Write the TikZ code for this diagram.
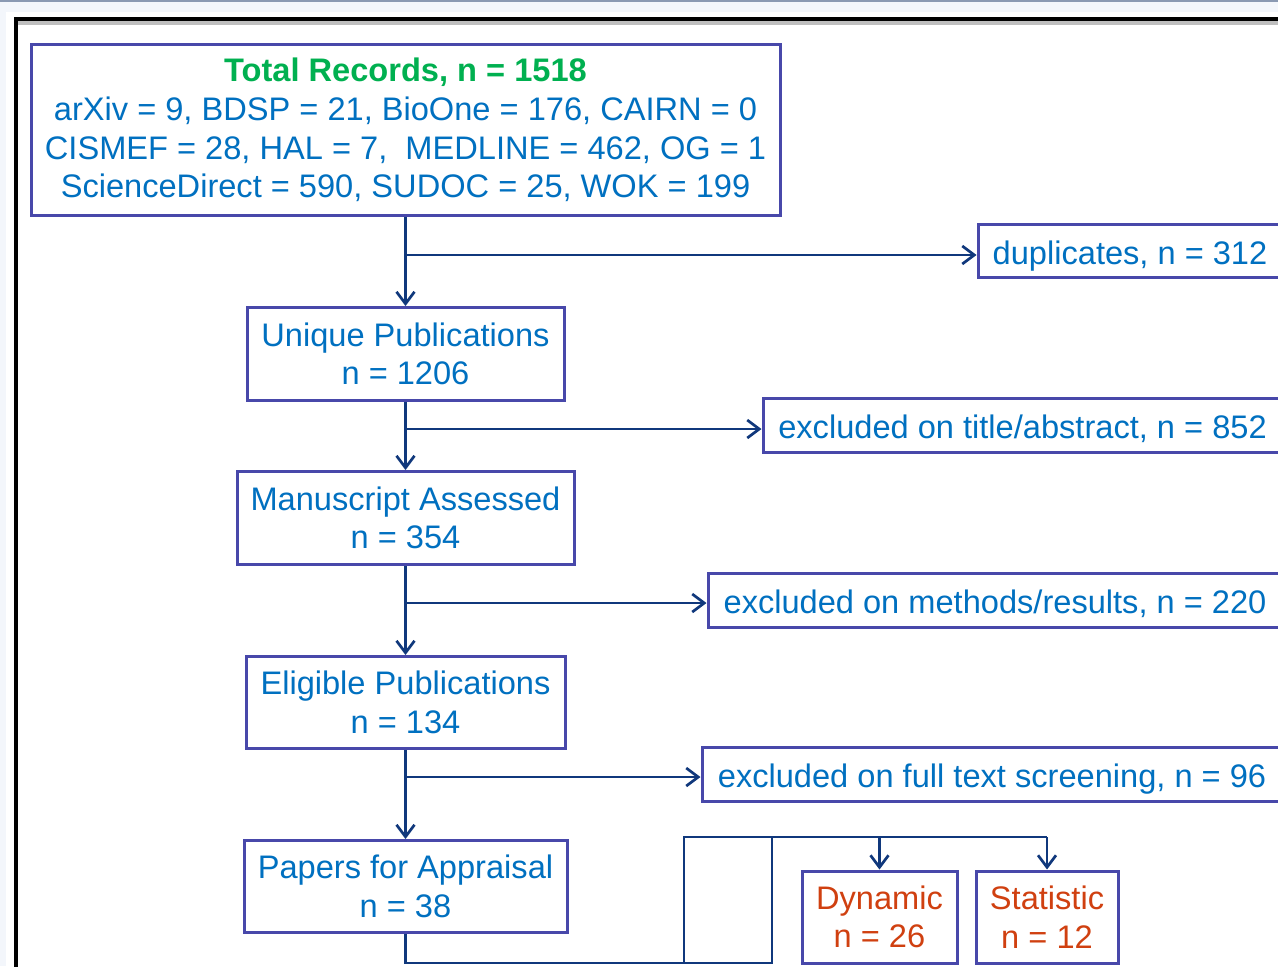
\documentclass[tikz,border=0pt]{standalone}
\usepackage{fontspec}
\setmainfont{Liberation Sans}
\usetikzlibrary{arrows.meta}
\definecolor{txtblue}{HTML}{0070C0}
\definecolor{txtgreen}{HTML}{00B050}
\definecolor{txtorange}{HTML}{D04010}
\definecolor{linenavy}{HTML}{10387C}
\definecolor{boxline}{HTML}{4848AA}
\definecolor{bgpale}{HTML}{F3F6FB}
\definecolor{bgtop}{HTML}{8A99B2}
\tikzset{
  box/.style={draw=boxline, line width=1.5pt, fill=white, inner sep=0pt, align=center,
    text=txtblue, font=\fontsize{16.3}{19.3}\selectfont},
  sidebox/.style={box, text height=13.5pt, text depth=0pt},
  res/.style={box, text=txtorange},
  flow/.style={draw=linenavy, line width=1.35pt},
  flowarrow/.style={flow, -{Straight Barb[length=6pt,width=9pt,line width=1.35pt]}},
}
\begin{document}
\begin{tikzpicture}[x=0.5pt,y=-0.5pt]
\useasboundingbox (0,0) rectangle (1278,966);
\clip (0,0) rectangle (1278,966);
% background
\fill[bgpale] (0,0) rectangle (1278,966);
\fill[bgtop] (0,0) rectangle (1278,2);
\fill[white] (6,12) rectangle (1290,980);
\fill[black!25] (18,21) rectangle (1290,25);
\draw[black, line width=2pt] (16,990) -- (16,19) -- (1300,19);

% main column
\node[box, minimum width=374.5pt, minimum height=85.5pt] (total) at (405.5,130)
  {{\bfseries\color{txtgreen}Total Records, n = 1518}\\
   arXiv = 9, BDSP = 21, BioOne = 176, CAIRN = 0\\
   CISMEF = 28, HAL = 7,\ \ MEDLINE = 462, OG = 1\\
   ScienceDirect = 590, SUDOC = 25, WOK = 199};
\node[box, minimum width=158.5pt, minimum height=46.5pt] (unique) at (405.5,354)
  {Unique Publications\\n = 1206};
\node[box, minimum width=168.5pt, minimum height=46.5pt] (manu) at (405.5,518)
  {Manuscript Assessed\\n = 354};
\node[box, minimum width=159.5pt, minimum height=46pt] (elig) at (405.5,702.5)
  {Eligible Publications\\n = 134};
\node[box, minimum width=161.5pt, minimum height=46pt] (papers) at (405.5,886.5)
  {Papers for Appraisal\\n = 38};

% side boxes
\node[sidebox, minimum width=152pt, minimum height=26.5pt] (dup) at (1130,250.5)
  {duplicates, n = 312};
\node[sidebox, minimum width=259.5pt, minimum height=27pt] (title) at (1022.5,425)
  {excluded on title/abstract, n = 852};
\node[sidebox, minimum width=287pt, minimum height=27pt] (meth) at (995,600)
  {excluded on methods/results, n = 220};
\node[sidebox, minimum width=290pt, minimum height=27pt] (full) at (992,774)
  {excluded on full text screening, n = 96};

% result boxes
\node[res, minimum width=77.5pt, minimum height=46pt] (dyn) at (879.5,917)
  {Dynamic\\n = 26};
\node[res, minimum width=71pt, minimum height=46pt] (stat) at (1047,917)
  {Statistic\\n = 12};

% coordinates
\coordinate (b1) at (405.5,255);
\coordinate (b2) at (405.5,429);
\coordinate (b3) at (405.5,603);
\coordinate (b4) at (405.5,777);
\coordinate (cbl) at (405.5,963);
\coordinate (cbr) at (772,963);
\coordinate (ctl) at (684,837);
\coordinate (ctr) at (772,837);
\coordinate (cst) at (1047,837);

% vertical flow
\draw[flowarrow] (total.south) -- (unique.north);
\draw[flowarrow] (unique.south) -- (manu.north);
\draw[flowarrow] (manu.south) -- (elig.north);
\draw[flowarrow] (elig.south) -- (papers.north);

% branches
\draw[flowarrow] (b1) -- (b1 -| dup.west);
\draw[flowarrow] (b2) -- (b2 -| title.west);
\draw[flowarrow] (b3) -- (b3 -| meth.west);
\draw[flowarrow] (b4) -- (b4 -| full.west);

% bottom connector
\draw[flow] (papers.south) -- (cbl) -- (cbr);
\draw[flow] (ctl) rectangle (cbr);
\draw[flow] (ctr) -- (cst);
\draw[flowarrow] (ctr -| dyn.north) -- (dyn.north);
\draw[flowarrow] (cst) -- (stat.north);
\end{tikzpicture}
\end{document}
